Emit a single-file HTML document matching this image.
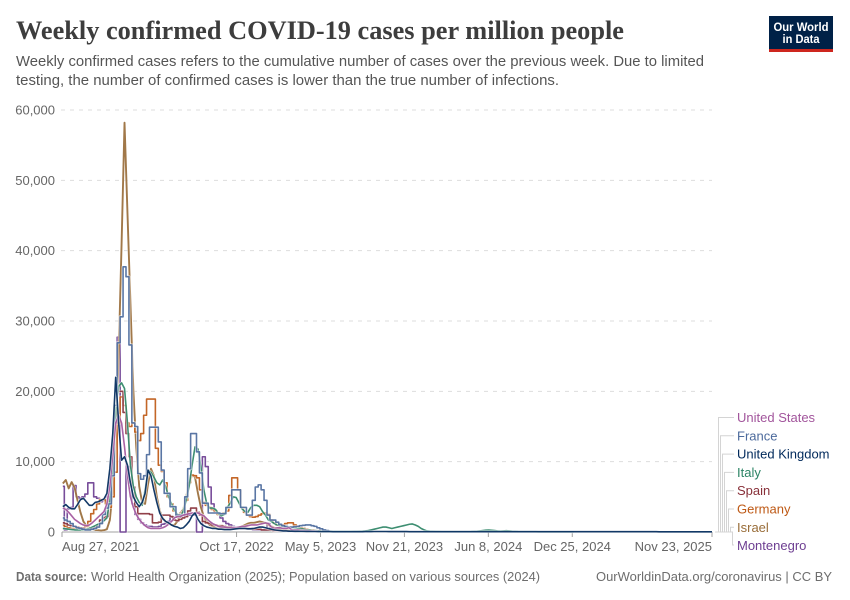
<!DOCTYPE html>
<html lang="en">
<head>
<meta charset="utf-8">
<title>Weekly confirmed COVID-19 cases per million people</title>
<style>
html,body{margin:0;padding:0;background:#fff}
svg{display:block}
text{font-family:"Liberation Sans",sans-serif}
</style>
</head>
<body>
<svg id="chart" xmlns="http://www.w3.org/2000/svg" width="850" height="600" viewBox="0 0 850 600">
<rect width="850" height="600" fill="#fff"/>
<text x="16" y="39" font-size="26" font-weight="bold" fill="#3d3d3d" textLength="608" lengthAdjust="spacingAndGlyphs" style='font-family:"Liberation Serif",serif'>Weekly confirmed COVID-19 cases per million people</text>
<text x="16" y="66" font-size="15" fill="#555" textLength="688" lengthAdjust="spacingAndGlyphs">Weekly confirmed cases refers to the cumulative number of cases over the previous week. Due to limited</text>
<text x="16" y="85" font-size="15" fill="#555" textLength="543" lengthAdjust="spacingAndGlyphs">testing, the number of confirmed cases is lower than the true number of infections.</text>
<g>
<rect x="769" y="16" width="64" height="36" fill="#002147"/>
<rect x="769" y="49" width="64" height="3" fill="#ce261e"/>
<text x="801" y="31" font-size="12" font-weight="bold" fill="#fff" text-anchor="middle" textLength="55" lengthAdjust="spacingAndGlyphs">Our World</text>
<text x="801" y="43" font-size="12" font-weight="bold" fill="#fff" text-anchor="middle" textLength="37" lengthAdjust="spacingAndGlyphs">in Data</text>
</g>
<g id="grid"></g>
<g id="axis"></g>
<g id="lines"></g>
<g id="legend"></g>
<text x="16" y="581" font-size="12.5" font-weight="bold" fill="#6e6e6e" textLength="71" lengthAdjust="spacingAndGlyphs">Data source:</text>
<text x="91" y="581" font-size="12.5" fill="#6e6e6e" textLength="449" lengthAdjust="spacingAndGlyphs">World Health Organization (2025); Population based on various sources (2024)</text>
<text x="596" y="581" font-size="12.5" fill="#6e6e6e" textLength="236" lengthAdjust="spacingAndGlyphs">OurWorldinData.org/coronavirus | CC BY</text>
</svg>
<script>
const yTicks = [0, 10000, 20000, 30000, 40000, 50000, 60000];
const yTickLabels = ["0", "10,000", "20,000", "30,000", "40,000", "50,000", "60,000"];
const xTickDates = ["2021-08-27", "2022-10-17", "2023-05-05", "2023-11-21", "2024-06-08", "2024-12-25", "2025-11-23"];
const xTickLabels = ["Aug 27, 2021", "Oct 17, 2022", "May 5, 2023", "Nov 21, 2023", "Jun 8, 2024", "Dec 25, 2024", "Nov 23, 2025"];
const firstWeekDate = "2021-08-29";

const montenegro = [6500,300,3300,3500,6600,5000,4800,5000,5400,7000,7000,5000,4800,4300,4500,5000,7000,9000,15000,27700,0,0,9300,7000,4000,2500,1800,1300,1000,800,800,700,700,800,1100,1200,1500,2100,2100,2100,2100,2100,2200,2400,2400,2400,0,0,10700,9300,6400,4000,2900,2500,2000,1500,1200,1000,800,700,600,500,500,400,400,300,300,300,300,300,1200,300,200,200,200,200,200,100,100,100];
const israel = [6900,7400,6200,7100,6300,4500,2800,1500,900,600,400,300,250,200,250,400,1700,6000,13000,25000,41000,58200,45400,32700,20200,12000,6500,4200,4000,6800,9000,8000,5000,3000,2000,1500,1200,1000,1000,1500,2700,3200,5000,7000,8100,7800,5500,3500,2200,1500,1000,800,600,500,500,500,500,500,500,500,600,800,1000,1200,1300,1300,1400,1500,1400,1300,1000,800,600,500,400,300,300,200,200,200,150,150,100,100,100];
const germany = [1000,800,600,500,500,500,500,600,800,1500,2600,3200,4000,4600,4600,4000,3500,5000,8500,15500,19200,18000,15500,15000,15500,14200,13000,14000,16600,18900,18900,18900,11900,9500,8600,7000,5000,4000,3000,2500,2300,2800,4500,7000,8100,8000,7700,6000,4200,3800,3500,3200,3000,2500,2500,2700,3000,5200,7700,7700,6000,3500,2800,2400,2200,2100,2200,2400,2600,2700,2500,1700,1300,1000,900,1000,1200,1300,1300,1000,800,600,500,400,300,300,200,200,100,100];
const spain = [1300,1200,1000,900,800,700,600,500,400,400,500,700,1000,1700,2000,2200,5000,9000,15500,20000,20000,17000,14000,10700,6400,3600,2600,2600,2600,2600,2500,1300,1300,1400,2400,2400,2400,2200,1700,1600,1800,2000,2200,3000,3400,3400,2800,2400,1500,1300,1200,1000,1000,900,900,800,700,700,600,600,500,500,500,500,500,400,400,400,300,300,300,300,200,200,200];
const italy = [500,450,400,350,300,300,300,300,400,500,700,900,1100,1300,1600,2000,4500,9000,17000,20700,21200,20400,15500,9500,6500,5000,4200,3800,6000,8800,8500,7800,7000,6700,7400,6500,5000,4000,3100,2500,2100,3000,4500,6500,9500,12100,11800,9300,6000,4000,3400,3400,3200,2600,2300,2500,3500,4100,5000,4900,4100,3300,2900,2800,3500,3800,3800,3600,2900,2400,1700,1500,1200,1000,900,800,700,700,600,600,500,500,400,300,300,200,200,150,100,100,80,70,60,60,60,60,60,70,70,80,80,100,120,150,200,300,400,500,600,700,700,600,500,600,700,800,900,1000,1100,1140,1000,800,500,300,150,100,80,60,60,50,50,50,50,40,40,40,40,50,50,60,80,100,150,200,260,280,250,200,150,120,150,180,150,100,80,60,50,50,40,40,40,40,30,30,30,30,30,30,30,30,30,30,30,30,30];
const france = [2000,1700,1500,1200,800,600,500,400,300,300,400,500,700,1200,2500,3400,4000,8000,18000,26900,30600,37700,36300,26600,15500,15000,8300,7500,8000,11000,14900,14900,14900,12800,8800,5500,5500,3600,3600,2400,2400,2400,5000,9000,14000,14000,11400,8400,4100,4100,2700,2700,2700,2700,2600,2600,3500,3500,6000,6000,6000,3500,3500,2400,2400,4500,6400,6700,6000,4500,2400,1700,1700,1400,1100,900,800,700,700,750,800,900,950,1000,1000,900,800,600,450,300,200,100];
const unitedStates = [3400,3200,2800,2300,1800,1500,1200,1000,900,1000,1300,1700,2100,2500,2900,4000,6500,11000,15500,16600,15500,12100,8000,5000,3500,2500,1800,1300,900,600,500,500,500,500,600,800,1100,1500,2000,2200,2200,2400,2500,2600,2700,2700,2700,2500,2300,1900,1500,1200,1000,800,700,700,600,600,600,600,700,800,800,900,1000,1000,1000,1100,1200,1300,1200,700,500,600,600,500,500,600,300,300,300,250,200,200,150,150,100,100];
const unitedKingdom = [3600,3900,3500,3300,3300,3900,4600,4800,4300,3800,3800,4200,4300,4500,4700,5500,9000,14000,22000,15500,10200,10700,9500,7000,5000,4200,3600,4200,5500,8800,8000,6000,4200,2700,1900,1500,1300,1000,800,700,500,600,1000,1500,2300,2700,1800,1200,900,700,600,500,500,400,400,350,350,350,400,450,500,500,500,450,450,500,600,700,700,600,500,400,300,250,200,150,150,120,120,100,100,90,90,80,80,70,70,60,60,60,60,60,50,50,50,50,50,50,50,50,50,50,50,60,60,60,70,70,70,70,70,60,60,60,60,60,60,60,50,50,50,50,50,50,50,50,50,50,50,50,50,50,50,50,50,50,50,50,50,50,50,50,50,50,50,50,50,50,50,50,50,50,50,50,50,50,50,50,50,50,50,50,50,50,50,50,50,50,40,40,40,40,40,40,40,40,40,40,40,40,40,40,40,40,40,40,40,40,40,40,40,40,40,40,40,40,40,40,40,40,40,40,40,30,30,30,30,30,30,30,30,30,30,30,30,30,30,30,30,30,30,30];

const drawOrder = ["Montenegro", "Israel", "Germany", "Spain", "Italy", "France", "United States", "United Kingdom"];
const legendOrder = ["United States", "France", "United Kingdom", "Italy", "Spain", "Germany", "Israel", "Montenegro"];
const seriesData = {"Montenegro": montenegro, "Israel": israel, "Germany": germany, "Spain": spain, "Italy": italy, "France": france, "United States": unitedStates, "United Kingdom": unitedKingdom};
const seriesColor = {"Montenegro": "#6D3E91", "Israel": "#996D39", "Germany": "#BE5915", "Spain": "#883039", "Italy": "#2C8465", "France": "#4C6A9C", "United States": "#A2559C", "United Kingdom": "#00295B"};
const steppedSeries = ["Montenegro", "Germany", "Spain", "France"];

const NS = "http://www.w3.org/2000/svg";
const DAY = 86400000;
const startMs = Date.parse(xTickDates[0]);
const endMs = Date.parse(xTickDates[xTickDates.length - 1]);
const plot = {left: 62, right: 712, top: 110, bottom: 532};
function xScale(ms) { return plot.left + (ms - startMs) / (endMs - startMs) * (plot.right - plot.left); }
function yScale(v) { return plot.bottom - v / 60000 * (plot.bottom - plot.top); }
function weekX(i) { return xScale(Date.parse(firstWeekDate) + i * 7 * DAY); }
function mk(tag, attrs, parent) {
  const el = document.createElementNS(NS, tag);
  for (const k in attrs) el.setAttribute(k, attrs[k]);
  parent.appendChild(el);
  return el;
}
function kebab(s) { return s.toLowerCase().replace(/ /g, "-"); }

const gridG = document.getElementById("grid");


const axisG = document.getElementById("axis");


const linesG = document.getElementById("lines");


const legendG = document.getElementById("legend");



yTicks.forEach(function (v, i) {
  if (v !== 0) {
    const g = mk("line", {x1: 61, x2: plot.right, y1: yScale(v), y2: yScale(v), stroke: "#dddddd", "stroke-dasharray": "4 5"}, gridG);
    
    
  }
  const t = mk("text", {x: 55, y: yScale(v) + 4.5, "font-size": 13, fill: "#666", "text-anchor": "end"}, axisG);
  t.textContent = yTickLabels[i];
  
  
});

const baseline = mk("line", {x1: plot.left, x2: plot.right, y1: plot.bottom, y2: plot.bottom, stroke: "#a1a1a1"}, axisG);



xTickDates.forEach(function (d, i) {
  const x = xScale(Date.parse(d));
  const tick = mk("line", {x1: x, x2: x, y1: plot.bottom, y2: plot.bottom + 5, stroke: "#a1a1a1"}, axisG);
  
  
  const anchor = i === 0 ? "start" : (i === xTickDates.length - 1 ? "end" : "middle");
  const t = mk("text", {x: x, y: 551, "font-size": 13, fill: "#666", "text-anchor": anchor}, axisG);
  t.textContent = xTickLabels[i];
  
  
});

function pathFor(name) {
  const vals = seriesData[name];
  const stepped = steppedSeries.indexOf(name) >= 0;
  let d = "";
  vals.forEach(function (v, i) {
    const x = weekX(i).toFixed(2), y = yScale(v).toFixed(2);
    if (i === 0) { d += "M" + x + " " + y; return; }
    if (stepped) {
      const mid = ((weekX(i) + weekX(i - 1)) / 2).toFixed(2);
      d += "H" + mid + "V" + y + "H" + x;
    } else {
      d += "L" + x + " " + y;
    }
  });
  return d;
}

drawOrder.forEach(function (name) {
  const d = pathFor(name);
  const halo = mk("path", {d: d, fill: "none", stroke: "#fff", "stroke-width": 3, "stroke-opacity": 0.6, "stroke-linejoin": "round"}, linesG);
  
  
  const p = mk("path", {d: d, fill: "none", stroke: seriesColor[name], "stroke-width": name === "Israel" ? 1.9 : 1.6, "stroke-opacity": 0.92, "stroke-linejoin": "round"}, linesG);
  
  
});

const legendRowHeight = 18.3;
legendOrder.forEach(function (name, i) {
  const ly = 417.5 + i * legendRowHeight;
  const busX = 718.5 + i * 2;
  const endY = i === 7 ? 545 : ly;
  const conn = mk("path", {d: "M715 532H" + busX + "V" + endY + "H734", fill: "none", stroke: "#d4d4d4", "stroke-width": 1}, legendG);
  
  
  const t = mk("text", {x: 737, y: ly + 4.5, "font-size": 13, fill: seriesColor[name]}, legendG);
  t.textContent = name;
  
  
});
</script>
</body>
</html>
